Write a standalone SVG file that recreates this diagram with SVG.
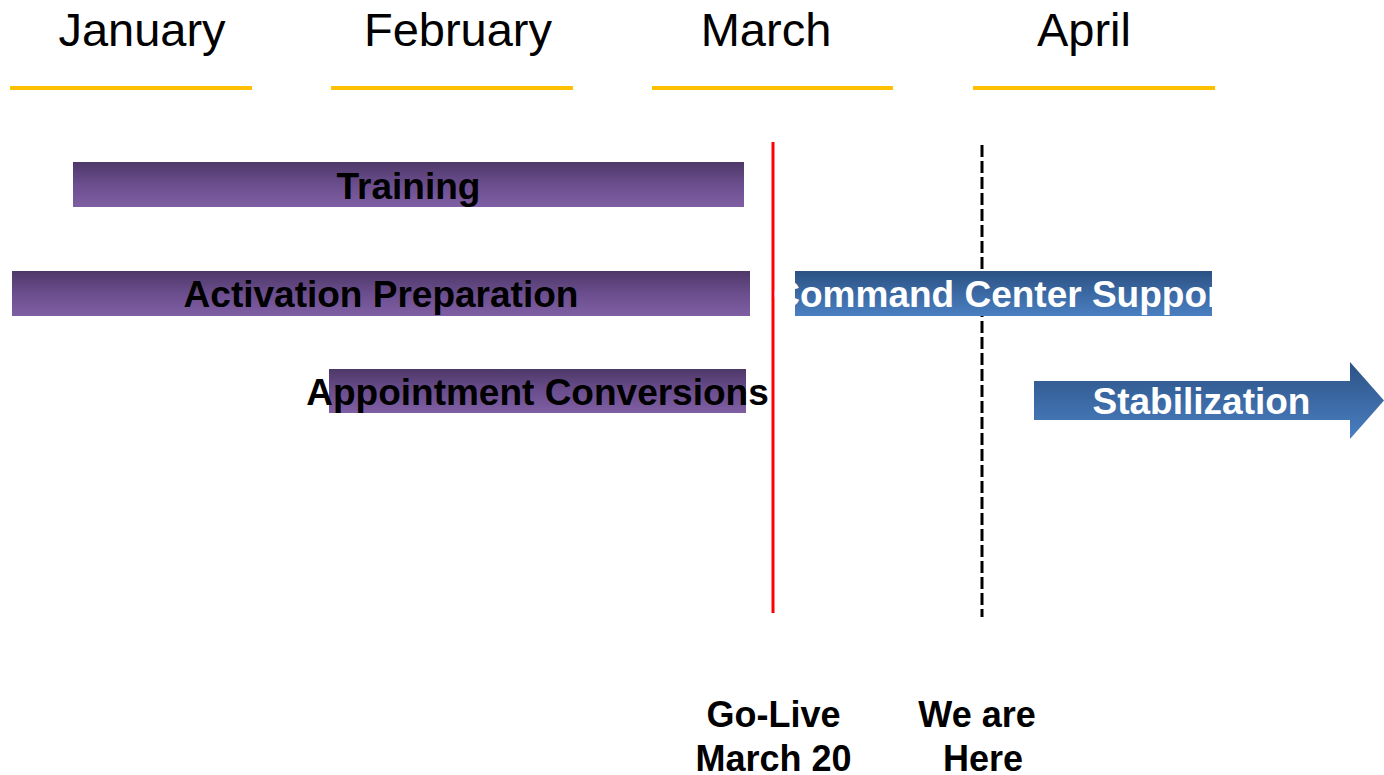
<svg xmlns="http://www.w3.org/2000/svg" width="1384" height="775" viewBox="0 0 1384 775">
<defs>
<linearGradient id="gPurple" x1="0" y1="0" x2="0" y2="1">
<stop offset="0" stop-color="#4e3868"/>
<stop offset="0.5" stop-color="#6b4e8e"/>
<stop offset="1" stop-color="#7f5fa3"/>
</linearGradient>
<linearGradient id="gBlue" x1="0" y1="0" x2="0" y2="1">
<stop offset="0" stop-color="#2c5283"/>
<stop offset="0.5" stop-color="#3b69a4"/>
<stop offset="1" stop-color="#4a7fc1"/>
</linearGradient>
<style>
.month{font-family:"Liberation Sans",Arial,sans-serif;font-size:47px;fill:#000;text-anchor:middle}
.mline{stroke:#ffc000;stroke-width:4}
.bar{font-family:"Liberation Sans",Arial,sans-serif;font-size:37px;font-weight:bold;text-anchor:middle}
.lbl{font-family:"Liberation Sans",Arial,sans-serif;font-size:36px;font-weight:bold;text-anchor:middle;fill:#000}
</style>
</defs>
<rect width="1384" height="775" fill="#fff"/>
<g id="months">
<text class="month" x="142" y="46">January</text>
<text class="month" x="458" y="46">February</text>
<text class="month" x="766" y="46">March</text>
<text class="month" x="1084" y="46">April</text>
<line class="mline" x1="10" y1="88" x2="252" y2="88"/>
<line class="mline" x1="331" y1="88" x2="573" y2="88"/>
<line class="mline" x1="652" y1="88" x2="893" y2="88"/>
<line class="mline" x1="973" y1="88" x2="1215" y2="88"/>
</g>
<g id="training">
<rect x="73" y="162" width="671" height="45" fill="url(#gPurple)"/>
<text class="bar" x="408.5" y="199" fill="#000">Training</text>
</g>
<g id="activation">
<rect x="12" y="271" width="738" height="45" fill="url(#gPurple)"/>
<text class="bar" x="381" y="307" fill="#000">Activation Preparation</text>
</g>
<g id="appointment">
<rect x="329" y="369" width="417" height="44" fill="url(#gPurple)"/>
<text class="bar" x="537.5" y="405" fill="#000">Appointment Conversions</text>
</g>
<g id="connectors">
<line id="golive-line" x1="773" y1="142" x2="773" y2="613" stroke="#ff0000" stroke-width="3"/>
<line id="here-line" x1="982" y1="145" x2="982" y2="617" stroke="#000" stroke-width="3" stroke-dasharray="12 4"/>
</g>
<g id="command">
<rect x="795" y="271" width="417" height="45" fill="url(#gBlue)"/>
<text class="bar" x="1003.5" y="307" fill="#fff">Command Center Support</text>
</g>
<g id="stabilization">
<path d="M1034 381 H1350 V362 L1384 400.5 L1350 439 V420 H1034 Z" fill="url(#gBlue)"/>
<text class="bar" x="1201.5" y="414" fill="#fff">Stabilization</text>
</g>
<g id="golive-label">
<text class="lbl" x="773.5" y="727">Go-Live</text>
<text class="lbl" x="773.5" y="771">March 20</text>
</g>
<g id="here-label">
<text class="lbl" x="977" y="727">We are</text>
<text class="lbl" x="983" y="771">Here</text>
</g>
</svg>
